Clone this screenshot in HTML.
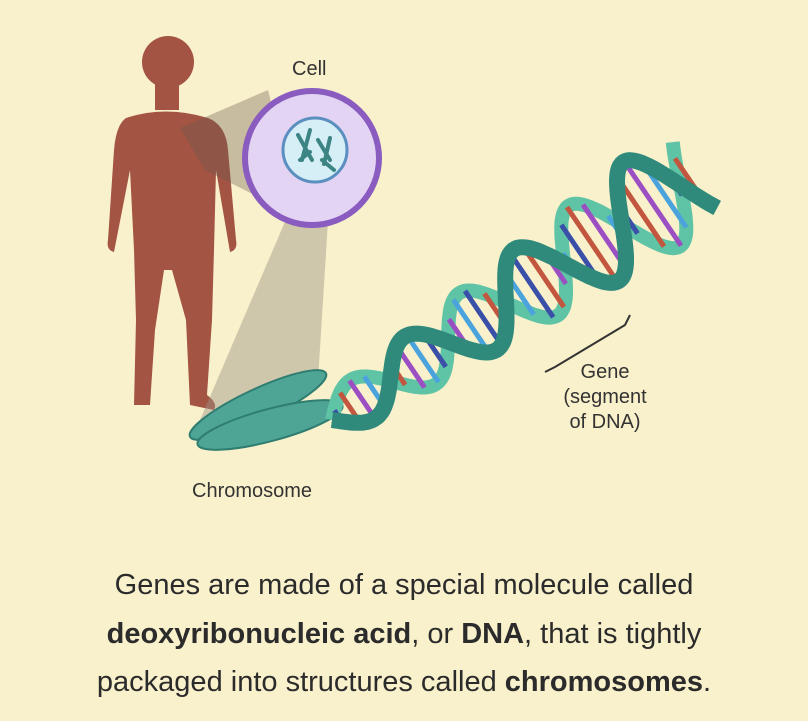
<!DOCTYPE html>
<html><head><meta charset="utf-8"><style>
html,body{margin:0;padding:0;background:#f9f1cb;}
body{width:808px;height:721px;overflow:hidden;position:relative;font-family:"Liberation Sans",sans-serif;}
.t{position:absolute;left:0;width:808px;text-align:center;font-size:29px;color:#2b2b2b;}
.l{position:absolute;font-size:20px;color:#333;text-align:center;line-height:25px}
</style></head><body>
<svg id="s" width="808" height="721" style="position:absolute;left:0;top:0">
<g fill="#a45443">
<circle cx="168" cy="62" r="26"/>
<rect x="155" y="80" width="24" height="30"/>
<path d="M126 118 Q165 105 208 118 Q226 125 228 150 L236 240 Q238 250 230 252 L216 170 L214 250 L212 320 L207 395 Q218 403 214 410 L190 405 L186 320 L172 270 L164 270 L155 330 L150 405 L134 405 L136 320 L134 250 L130 170 L114 252 Q106 250 108 240 L114 150 Q116 125 126 118Z"/>
</g>
<path d="M180 128 L268 90 L300 218 L205 170Z" fill="#6b5a50" opacity="0.35"/>
<path d="M290 210 L330 190 L318 380 L200 420 Z" fill="#9c9488" opacity="0.45"/>
<circle cx="312" cy="158" r="67" fill="#e2d4f2" stroke="#8a5cbf" stroke-width="6"/>
<circle cx="315" cy="150" r="32" fill="#d6eef5" stroke="#5a8fc0" stroke-width="3"/>
<g stroke="#3d8585" stroke-width="4" stroke-linecap="round">
<path d="M298 135 l14 25 M310 130 l-8 30 M318 140 l12 20 M330 138 l-6 26 M300 160 l10 -8 M322 160 l12 10"/>
</g>
<g fill="#4ea596" stroke="#2e7d70" stroke-width="2">
<ellipse cx="258" cy="405" rx="75" ry="16" transform="rotate(-25 258 405)"/>
<ellipse cx="270" cy="425" rx="75" ry="16" transform="rotate(-15 270 425)"/>
</g>
<g id="dna"></g>
</svg>
<div class="l" style="left:292px;top:57px">Cell</div>
<div class="l" style="left:555px;top:360px;width:100px">Gene<br>(segment<br>of DNA)</div>
<div class="l" style="left:192px;top:479px">Chromosome</div>
<svg width="808" height="721" style="position:absolute;left:0;top:0"><path d="M545 372 l10 -5 L625 325 l5 -10" fill="none" stroke="#333" stroke-width="2"/></svg>
<div class="t" style="top:569px">Genes are made of a special molecule called</div>
<div class="t" style="top:618px"><b>deoxyribonucleic acid</b>, or <b>DNA</b>, that is tightly</div>
<div class="t" style="top:666px">packaged into structures called <b>chromosomes</b>.</div>
<script>
var g=document.getElementById('dna');
var x0=332,y0=420,x1=695,y1=175,L=Math.hypot(x1-x0,y1-y0),ux=(x1-x0)/L,uy=(y1-y0)/L,nx=-uy,ny=ux;
function pt(t,ph){var a=20+t*35;var d=t*L;var o=a*Math.sin(t*L/140*2*Math.PI+ph);return[x0+ux*d+nx*o,y0+uy*d+ny*o];}
var cols=["#3a4fa8","#c2563f","#9b4fc2","#4aa3dd"];var h="";
for(var i=0;i<30;i++){var t=(i+0.5)/30;var a=pt(t,0),b=pt(t,Math.PI);
h+='<line x1="'+a[0]+'" y1="'+a[1]+'" x2="'+b[0]+'" y2="'+b[1]+'" stroke="'+cols[i%4]+'" stroke-width="5"/>';}
function strand(ph,c,w){var d="";for(var i=0;i<=200;i++){var p=pt(i/200,ph);d+=(i?"L":"M")+p[0].toFixed(1)+" "+p[1].toFixed(1);}
return '<path d="'+d+'" fill="none" stroke="'+c+'" stroke-width="'+w+'" stroke-linecap="butt"/>';}
h=strand(Math.PI,"#5fc3a5",14)+h+strand(0,"#2f8a7c",16);
g.innerHTML=h;
</script>
</body></html>
